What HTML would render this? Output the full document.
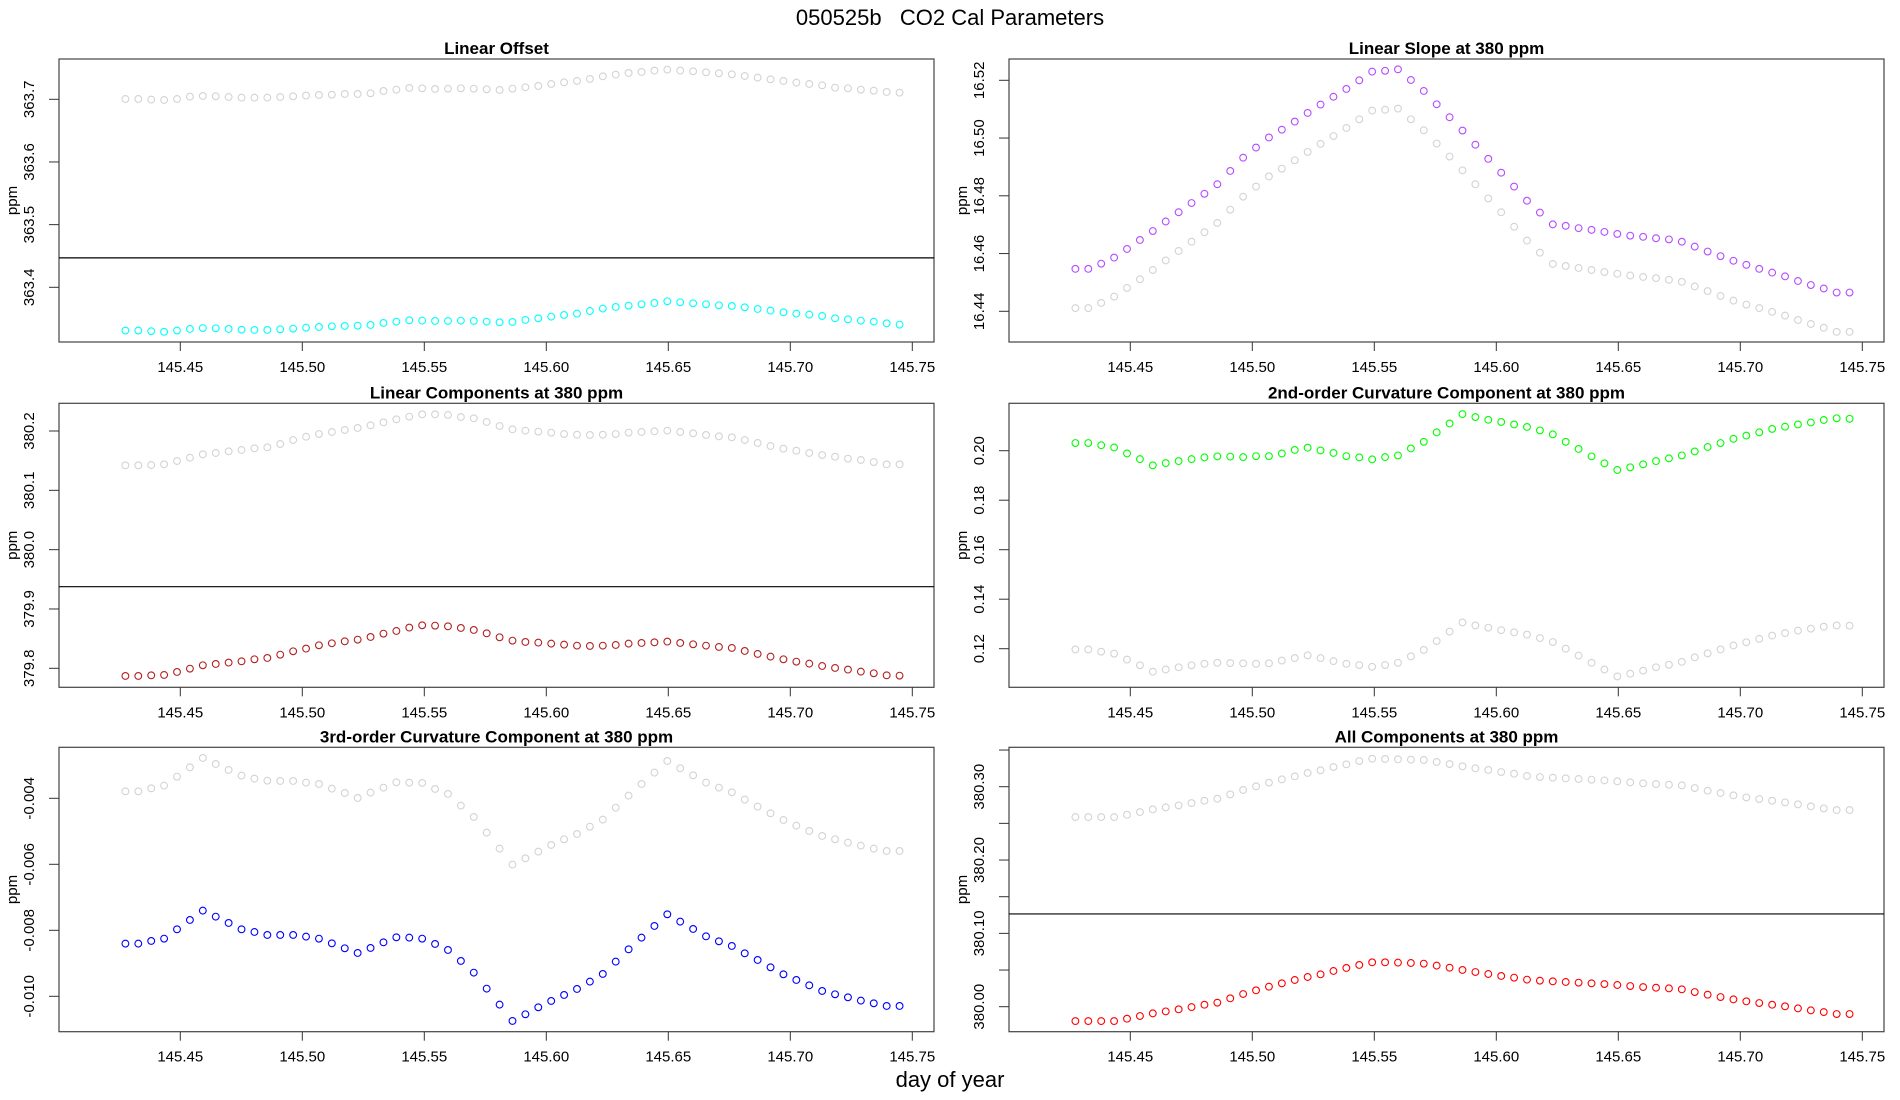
<!DOCTYPE html>
<html><head><meta charset="utf-8"><title>050525b CO2 Cal Parameters</title>
<style>
html,body{margin:0;padding:0;background:#fff;}
svg{display:block;font-family:"Liberation Sans",Arial,sans-serif;}
</style></head>
<body>
<svg id="chart" width="1900" height="1100" viewBox="0 0 1900 1100" xmlns="http://www.w3.org/2000/svg">
<rect x="0" y="0" width="1900" height="1100" fill="#fff"/>
<text x="950" y="25" text-anchor="middle" font-size="22" fill="#000" xml:space="preserve">050525b   CO2 Cal Parameters</text>
<text x="950" y="1087" text-anchor="middle" font-size="22" fill="#000">day of year</text>
<g id="panels"></g>
</svg>
<script>
const xTickLabels = ["145.45","145.50","145.55","145.60","145.65","145.70","145.75"];
const xTicks = [145.45,145.50,145.55,145.60,145.65,145.70,145.75];
const xStart = 145.4275;
const xStep = 0.005288;

const offsetGray = [363.7005,363.7005,363.6995,363.6989,363.7005,363.7043,363.7053,363.7048,363.7037,363.7027,363.7027,363.7027,363.7037,363.7048,363.7059,363.7069,363.7074,363.7085,363.7085,363.7096,363.7133,363.7154,363.7181,363.7176,363.7165,363.7170,363.7176,363.7170,363.7160,363.7149,363.7170,363.7192,363.7213,363.7245,363.7271,363.7293,363.7325,363.7367,363.7394,363.7420,363.7436,363.7458,363.7473,363.7458,363.7447,363.7431,363.7415,363.7399,363.7372,363.7346,363.7319,363.7293,363.7266,363.7245,363.7223,363.7186,363.7176,363.7154,363.7138,363.7117,363.7106];
const offsetCyan = [363.331,363.331,363.330,363.329,363.331,363.3335,363.335,363.3346,363.3335,363.3324,363.3319,363.3319,363.333,363.334,363.3356,363.3367,363.3378,363.3383,363.3388,363.3399,363.3431,363.3452,363.3473,363.3468,363.3463,363.3463,363.3468,363.3463,363.3452,363.3441,363.3447,363.3479,363.3505,363.3532,363.3558,363.358,363.3622,363.366,363.3686,363.3707,363.3729,363.375,363.3777,363.3761,363.3745,363.3729,363.3713,363.3702,363.3681,363.3654,363.3628,363.3601,363.358,363.3564,363.3542,363.3505,363.3489,363.3468,363.3452,363.3425,363.3404];

const slopePurple = [16.4547,16.4547,16.4565,16.4586,16.4616,16.4647,16.4678,16.4711,16.4743,16.4775,16.4807,16.4840,16.4886,16.4932,16.4967,16.5002,16.5029,16.5057,16.5087,16.5116,16.5143,16.5170,16.5200,16.5230,16.5233,16.5238,16.5201,16.5163,16.5117,16.5072,16.5026,16.4977,16.4928,16.4880,16.4832,16.4783,16.4742,16.4701,16.4696,16.4688,16.4682,16.4675,16.4668,16.4662,16.4658,16.4653,16.4649,16.4641,16.4624,16.4607,16.4591,16.4575,16.4561,16.4547,16.4534,16.4521,16.4505,16.4491,16.4479,16.4465,16.4465];
const slopeGray = [16.4411,16.4411,16.4429,16.4451,16.4481,16.4511,16.4543,16.4576,16.4609,16.4641,16.4674,16.4706,16.4752,16.4797,16.4832,16.4867,16.4894,16.4923,16.4952,16.4980,16.5007,16.5035,16.5065,16.5095,16.5098,16.5102,16.5065,16.5027,16.4981,16.4936,16.4888,16.4840,16.4791,16.4743,16.4693,16.4645,16.4603,16.4564,16.4557,16.4550,16.4543,16.4536,16.4530,16.4524,16.4519,16.4515,16.4509,16.4502,16.4486,16.4470,16.4453,16.4437,16.4423,16.4411,16.4398,16.4385,16.4370,16.4356,16.4343,16.4329,16.4329];

const linCompGray = [380.1421,380.1421,380.1427,380.1438,380.1494,380.1550,380.1607,380.1629,380.1657,380.1680,380.1708,380.1725,380.1781,380.1848,380.1904,380.1949,380.1983,380.2017,380.2051,380.2096,380.2146,380.2197,380.2242,380.2281,380.2281,380.2270,380.2236,380.2214,380.2152,380.2084,380.2028,380.2006,380.1989,380.1972,380.1949,380.1938,380.1933,380.1938,380.1949,380.1972,380.1983,380.1994,380.2006,380.1983,380.1961,380.1933,380.1910,380.1893,380.1848,380.1798,380.1747,380.1702,380.1668,380.1629,380.1595,380.1567,380.1534,380.1511,380.1477,380.1438,380.1438];
const linCompRed = [379.7871,379.7871,379.7882,379.7888,379.7938,379.7994,379.8051,379.8073,379.8096,379.8118,379.8152,379.8174,379.8230,379.8287,379.8332,379.8388,379.8422,379.8455,379.8483,379.8528,379.8584,379.8629,379.8686,379.8725,379.8719,379.8708,379.8680,379.8646,379.8590,379.8523,379.8466,379.8444,379.8433,379.8416,379.8399,379.8382,379.8377,379.8382,379.8393,379.8416,379.8427,379.8438,379.8450,379.8427,379.8405,379.8382,379.8360,379.8343,379.8292,379.8242,379.8197,379.8152,379.8112,379.8079,379.8039,379.8006,379.7978,379.7944,379.7916,379.7882,379.7876];

const curv2Green = [0.2031,0.2031,0.2022,0.2013,0.1989,0.1966,0.1941,0.1950,0.1958,0.1966,0.1973,0.1977,0.1976,0.1974,0.1978,0.1978,0.1989,0.2003,0.2012,0.2001,0.1991,0.1978,0.1973,0.1965,0.1974,0.1981,0.2009,0.2036,0.2074,0.2110,0.2148,0.2136,0.2125,0.2116,0.2106,0.2096,0.2082,0.2066,0.2036,0.2007,0.1977,0.1949,0.1922,0.1933,0.1945,0.1958,0.1969,0.1981,0.1997,0.2015,0.2031,0.2048,0.2061,0.2074,0.2088,0.2097,0.2106,0.2114,0.2124,0.2131,0.2129];
const curv2Gray = [0.1197,0.1197,0.1188,0.1180,0.1156,0.1133,0.1107,0.1116,0.1125,0.1133,0.1139,0.1143,0.1142,0.1141,0.1139,0.1141,0.1152,0.1162,0.1173,0.1162,0.1150,0.1139,0.1134,0.1127,0.1134,0.1143,0.1169,0.1195,0.1231,0.1269,0.1306,0.1294,0.1285,0.1275,0.1266,0.1257,0.1243,0.1227,0.1200,0.1172,0.1143,0.1116,0.1088,0.1099,0.1111,0.1125,0.1135,0.1147,0.1165,0.1181,0.1197,0.1213,0.1226,0.1240,0.1253,0.1263,0.1273,0.1281,0.1289,0.1294,0.1293];

const curv3Gray = [-0.003788,-0.003788,-0.003697,-0.003616,-0.003344,-0.003061,-0.002778,-0.002960,-0.003142,-0.003313,-0.003404,-0.003465,-0.003475,-0.003475,-0.003525,-0.003566,-0.003707,-0.003838,-0.003990,-0.003828,-0.003677,-0.003515,-0.003525,-0.003535,-0.003717,-0.003869,-0.004222,-0.004566,-0.005040,-0.005525,-0.006010,-0.005818,-0.005616,-0.005414,-0.005242,-0.005081,-0.004859,-0.004646,-0.004283,-0.003919,-0.003566,-0.003222,-0.002869,-0.003091,-0.003303,-0.003525,-0.003677,-0.003818,-0.004040,-0.004252,-0.004455,-0.004657,-0.004828,-0.004990,-0.005141,-0.005242,-0.005343,-0.005434,-0.005525,-0.005596,-0.005596];
const curv3Blue = [-0.008404,-0.008404,-0.008323,-0.008253,-0.007970,-0.007687,-0.007404,-0.007586,-0.007778,-0.007970,-0.008051,-0.008141,-0.008141,-0.008141,-0.008192,-0.008253,-0.008394,-0.008545,-0.008687,-0.008535,-0.008364,-0.008212,-0.008222,-0.008253,-0.008414,-0.008596,-0.008929,-0.009283,-0.009768,-0.010252,-0.010747,-0.010545,-0.010333,-0.010141,-0.009960,-0.009778,-0.009555,-0.009323,-0.008949,-0.008576,-0.008222,-0.007869,-0.007515,-0.007737,-0.007960,-0.008182,-0.008333,-0.008475,-0.008697,-0.008899,-0.009121,-0.009333,-0.009505,-0.009667,-0.009838,-0.009939,-0.010030,-0.010131,-0.010212,-0.010293,-0.010293];

const allGray = [380.2586,380.2586,380.2586,380.2586,380.2618,380.2654,380.2691,380.2718,380.2745,380.2777,380.2809,380.2836,380.2895,380.2955,380.3005,380.3055,380.3100,380.3141,380.3187,380.3223,380.3268,380.3305,380.3350,380.3382,380.3378,380.3373,380.3369,380.3364,380.3337,380.3309,380.3278,380.3250,380.3228,380.3200,380.3177,380.3146,380.3132,380.3123,380.3114,380.3105,380.3096,380.3086,380.3073,380.3059,380.3046,380.3036,380.3027,380.3018,380.2982,380.2945,380.2914,380.2882,380.2854,380.2832,380.2809,380.2786,380.2759,380.2732,380.2704,380.2681,380.2681];
const allRed = [379.9804,379.9804,379.9804,379.9804,379.9836,379.9873,379.9909,379.9936,379.9964,379.9995,380.0027,380.0055,380.0114,380.0173,380.0223,380.0273,380.0319,380.0364,380.0405,380.0441,380.0487,380.0528,380.0569,380.0605,380.0605,380.0601,380.0596,380.0587,380.0560,380.0532,380.0501,380.0473,380.0446,380.0419,380.0396,380.0369,380.0355,380.0346,380.0337,380.0328,380.0319,380.0309,380.0296,380.0282,380.0268,380.0259,380.0250,380.0237,380.0200,380.0164,380.0132,380.0100,380.0073,380.0050,380.0027,380.0005,379.9977,379.9950,379.9927,379.9900,379.9900];

const p1Ticks = [363.4,363.5,363.6,363.7];
const p1TickLabels = ["363.4","363.5","363.6","363.7"];
const p2Ticks = [16.44,16.46,16.48,16.50,16.52];
const p2TickLabels = ["16.44","16.46","16.48","16.50","16.52"];
const p3Ticks = [379.8,379.9,380.0,380.1,380.2];
const p3TickLabels = ["379.8","379.9","380.0","380.1","380.2"];
const p4Ticks = [0.12,0.14,0.16,0.18,0.20];
const p4TickLabels = ["0.12","0.14","0.16","0.18","0.20"];
const p5Ticks = [-0.010,-0.008,-0.006,-0.004];
const p5TickLabels = ["-0.010","-0.008","-0.006","-0.004"];
const p6Ticks = [380.00,380.05,380.10,380.15,380.20,380.25,380.30,380.35];
const p6TickLabels = ["380.00","","380.10","","380.20","","380.30",""];
const p1Ref = [363.447];
const p3Ref = [379.9376];
const p6Ref = [380.1265];

const NS = "http://www.w3.org/2000/svg";
const root = document.getElementById("panels");
function el(tag, attrs, parent){
  const e = document.createElementNS(NS, tag);
  for (const k in attrs) e.setAttribute(k, attrs[k]);
  (parent||root).appendChild(e);
  return e;
}

const panels = [
  {key:"linear-offset", title:"Linear Offset", col:0, row:0, ticks:p1Ticks, labels:p1TickLabels, v1:363.7, p1:99.3, v2:363.4, p2:287.3, series:[[offsetGray,"#d3d3d3","gray"],[offsetCyan,"#00ffff","cyan"]], ref:p1Ref},
  {key:"linear-slope", title:"Linear Slope at 380 ppm", col:1, row:0, ticks:p2Ticks, labels:p2TickLabels, v1:16.52, p1:80.3, v2:16.44, p2:311.3, series:[[slopeGray,"#d3d3d3","gray"],[slopePurple,"#b54cff","purple"]], ref:[]},
  {key:"linear-components", title:"Linear Components at 380 ppm", col:0, row:1, ticks:p3Ticks, labels:p3TickLabels, v1:380.2, p1:431, v2:379.8, p2:668.3, series:[[linCompGray,"#d3d3d3","gray"],[linCompRed,"#b22222","firebrick"]], ref:p3Ref},
  {key:"curvature-2nd", title:"2nd-order Curvature Component at 380 ppm", col:1, row:1, ticks:p4Ticks, labels:p4TickLabels, v1:0.20, p1:450.7, v2:0.12, p2:648.7, series:[[curv2Gray,"#d3d3d3","gray"],[curv2Green,"#00ff00","green"]], ref:[]},
  {key:"curvature-3rd", title:"3rd-order Curvature Component at 380 ppm", col:0, row:2, ticks:p5Ticks, labels:p5TickLabels, v1:-0.004, p1:798.3, v2:-0.010, p2:996.3, series:[[curv3Gray,"#d3d3d3","gray"],[curv3Blue,"#0000ff","blue"]], ref:[]},
  {key:"all-components", title:"All Components at 380 ppm", col:1, row:2, ticks:p6Ticks, labels:p6TickLabels, v1:380.30, p1:786.7, v2:380.00, p2:1006.7, series:[[allGray,"#d3d3d3","gray"],[allRed,"#ff0000","red"]], ref:p6Ref}
];
const rowTop = [59, 403.3, 747.3];
const rowBot = [342, 687.3, 1031.7];

panels.forEach(p => {
  const ox = p.col * 950;
  const L = 59 + ox, R = 934 + ox, T = rowTop[p.row], B = rowBot[p.row];
  const xScale = v => 180.3 + ox + (v - 145.45) * (732 / 0.3);
  const yScale = v => p.p1 + (v - p.v1) * (p.p2 - p.p1) / (p.v2 - p.v1);
  const g = el("g", {});
  
  

  const t = el("text", {x:(L+R)/2, y:T-5, "text-anchor":"middle", "font-size":"17", "font-weight":"bold", fill:"#000"}, g);
  t.textContent = p.title;
  
  

  const box = el("rect", {x:L, y:T, width:R-L, height:B-T, fill:"none", stroke:"#444", "stroke-width":"1.2"}, g);
  
  

  // x axis
  const xa = el("g", {}, g);
  
  
  xTicks.forEach((v, i) => {
    const x = xScale(v);
    const tk = el("line", {x1:x, y1:B, x2:x, y2:B+9, stroke:"#333", "stroke-width":"1"}, xa);
    
    
    const lb = el("text", {x:x, y:B+30, "text-anchor":"middle", "font-size":"15", fill:"#000"}, xa);
    lb.textContent = xTickLabels[i];
    
    
  });

  // y axis
  const ya = el("g", {}, g);
  
  
  p.ticks.forEach((v, i) => {
    const y = yScale(v);
    if (y < T - 0.5 || y > B + 0.5) return;
    const tk = el("line", {x1:L, y1:y, x2:L-10, y2:y, stroke:"#333", "stroke-width":"1"}, ya);
    
    
    if (p.labels[i]) {
      const lb = el("text", {x:0, y:0, "text-anchor":"middle", "font-size":"15", fill:"#000", transform:"translate(" + (ox+34) + "," + y + ") rotate(-90)"}, ya);
      lb.textContent = p.labels[i];
      
      
    }
  });
  const yt = el("text", {x:0, y:0, "text-anchor":"middle", "font-size":"15", fill:"#000", transform:"translate(" + (ox+17) + "," + ((T+B)/2) + ") rotate(-90)"}, g);
  yt.textContent = "ppm";
  
  

  // reference line
  p.ref.forEach(v => {
    const ln = el("line", {x1:L, y1:yScale(v), x2:R, y2:yScale(v), stroke:"#000", "stroke-width":"1.2"}, g);
    
    
  });

  // series
  p.series.forEach(s => {
    const sg = el("g", {}, g);
    
    
    s[0].forEach((v, i) => {
      const c = el("circle", {cx:xScale(xStart + i * xStep), cy:yScale(v), r:"3.4", fill:"none", stroke:s[1], "stroke-width":"1.1"}, sg);
      
      
    });
  });
});
</script>
</body></html>
